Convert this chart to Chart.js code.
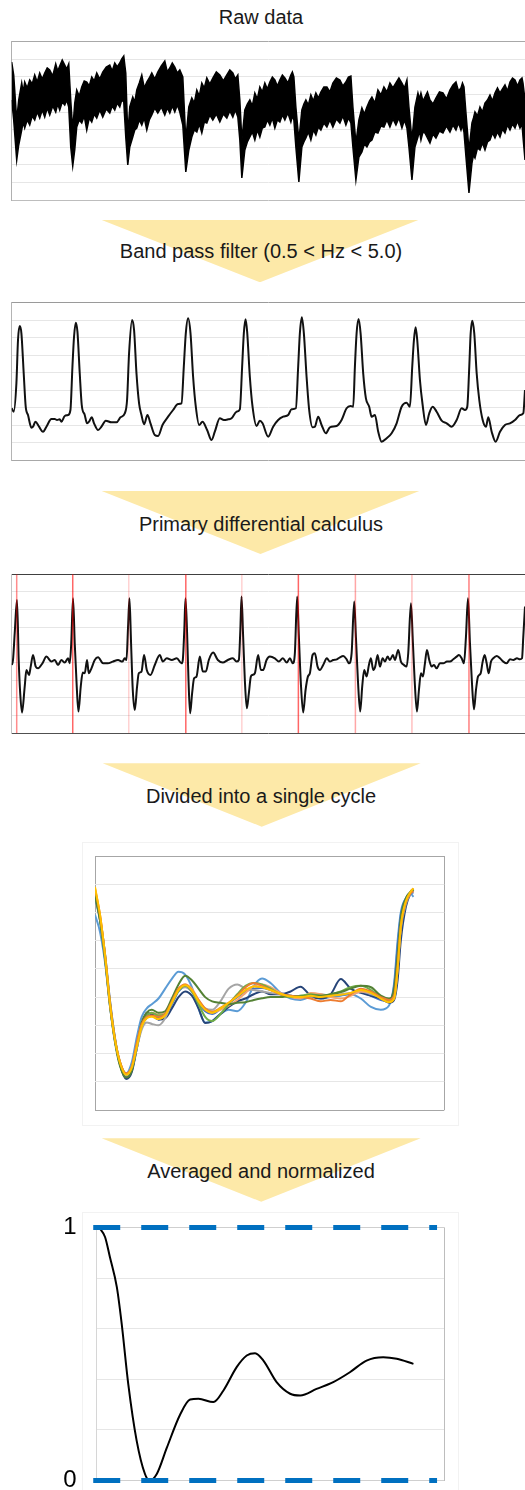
<!DOCTYPE html>
<html><head><meta charset="utf-8">
<script src="https://cdn.jsdelivr.net/npm/chart.js@4.4.1/dist/chart.umd.min.js"></script>
<style>
html,body{margin:0;padding:0;background:#fff;overflow:hidden;width:525px;height:1490px;}
.wrap{position:relative;width:525px;height:1490px;overflow:hidden;background:#fff;}
.lbl{position:absolute;left:0;width:522px;text-align:center;font-family:"Liberation Sans",Arial,sans-serif;font-size:20px;line-height:20px;color:#1a1a1a;white-space:nowrap;}
.arrow{position:absolute;background:#FDE9A8;clip-path:polygon(0 0,100% 0,50% 100%);}
.frame{position:absolute;border:1px solid #f2f2f2;}
canvas{position:absolute;}
</style></head>
<body><div class="wrap">
<div class="arrow" style="left:101.7px;top:220px;width:316.6px;height:62.3px"></div>
<div class="arrow" style="left:101.7px;top:491px;width:317.6px;height:63px"></div>
<div class="arrow" style="left:102.7px;top:763.3px;width:318px;height:63.4px"></div>
<div class="arrow" style="left:101.7px;top:1138.3px;width:319px;height:63.4px"></div>
<div class="frame" style="left:82px;top:842px;width:375px;height:282px"></div>
<div class="frame" style="left:82px;top:1212px;width:375px;height:290px"></div>
<div class="lbl" style="top:6.5px">Raw data</div>
<div class="lbl" style="top:241.2px">Band pass filter (0.5 &lt; Hz &lt; 5.0)</div>
<div class="lbl" style="top:513.5px">Primary differential calculus</div>
<div class="lbl" style="top:785.7px">Divided into a single cycle</div>
<div class="lbl" style="top:1161px">Averaged and normalized</div>
<canvas id="c1" width="515" height="162" style="left:10px;top:40px"></canvas>
<canvas id="c2" width="515" height="161" style="left:10px;top:301px"></canvas>
<canvas id="c3" width="515" height="163" style="left:10px;top:572px"></canvas>
<canvas id="c4" width="352" height="258" style="left:93px;top:854px"></canvas>
<canvas id="c5" width="450" height="322" style="left:0px;top:1193px"></canvas>
</div>
<script>
// ---------- DATA ----------
// Panel 1: raw signal, envelope (upper / lower) of the noisy trace
const rawT = [0,2,5,7,10,11.5,13,15.5,18,20.5,23,25.5,28,30.5,33,35.5,38,41,44,46,48,50.5,53,55,57,
 59,61,63,65,67.5,70,72.5,75,77.5,80,82.5,85,88,91,94.5,98,100.5,103,105.5,108,110,112,
 114,116,118,121,123,125,127.5,130,132.5,135,137.5,140,143,146,149.5,153,155.5,158,160.5,163,165.5,168,171,
 174,177,180,182.5,185,187.5,190,192.5,195,198,201,204.5,208,211.5,215,218,221,223.5,226,228,
 230,233,235.5,238,240.5,243,245.5,248,250.5,253,255.5,258,260.5,263,265.5,268,270.5,273,276,279,280.5,282,284,
 287,290,292,294,296.5,299,301.5,304,306.5,309,312,315,318,321,324.5,328,331,334,336.5,339,341,
 344,347,350,352.5,355,357.5,360,363,366,369,372,375,378,381,384,387,390,392.5,395,397,
 400,403,406,407.5,409,411,413,415.5,418,421,424,427.5,431,434.5,438,441,444,446.5,449,450.5,452,454,
 457,460,461.5,463,465.5,468,470.5,473,475.5,478,480.5,483,485.5,488,490.5,493,495.5,498,500.5,503,505.5,508,510,511,513];
const rawUpper = [138,125,80,100,117,108,118,112,120,116,125,118,127,121,127,132,130,124,136,129,134,140,135,131,136,
 100,70,97,110,104,113,119,118,114,123,119,127,121,128,133,135,129,137,133,137,141,144,
 127,65,93,103,98,110,117,125,112,118,122,127,121,128,134,139,128,132,137,133,127,130,123,
 60,93,102,97,110,104,117,112,122,116,122,128,125,119,125,130,127,121,125,100,
 60,90,96,100,94,107,101,113,108,117,111,118,123,120,114,120,125,122,117,125,128,123,93,
 60,90,96,100,95,105,99,107,102,108,113,113,108,117,122,120,114,118,123,124,93,
 57,80,92,86,93,99,103,97,110,105,113,108,117,112,117,122,117,112,120,93,
 60,93,107,101,107,99,103,108,100,96,102,108,107,101,110,115,118,109,112,117,113,87,
 50,77,82,88,84,93,88,97,100,105,99,107,112,107,111,115,109,118,122,120,114,120,122,117,100];
const rawLower = [100,80,40,55,70,78,72,80,75,84,80,88,82,90,83,92,85,94,88,96,90,98,95,100,93,
 53,34,50,73,80,77,84,70,82,78,86,82,90,83,91,87,94,90,97,93,100,98,
 63,35,53,63,70,72,80,75,82,70,80,85,92,87,93,85,92,87,94,88,95,88,75,
 28,50,63,70,68,76,67,78,77,85,80,86,78,86,82,89,83,90,83,60,
 22,50,58,63,68,60,70,63,72,73,80,75,82,72,80,78,85,80,87,78,84,80,53,
 18,53,58,62,68,60,70,65,73,70,77,73,80,73,81,77,84,75,82,77,53,
 20,43,48,56,53,58,60,68,67,74,73,80,73,81,75,82,72,80,72,53,
 20,53,63,69,60,68,67,62,57,66,62,69,67,74,68,75,70,77,70,75,68,43,
 7,37,45,42,52,50,57,50,58,60,67,62,68,63,71,67,75,70,76,72,79,72,76,63,40];

// Panel 2: band-pass filtered signal
const bandT = [0,2,4.7,6.3,8,9.7,12,14,16.3,19.7,21.3,23.7,27.3,31.3,34.7,39.7,43,45.3,48,49.7,53,56.3,58.7,
 60.7,62.3,64,65.7,68,70,73,75.3,77.3,80,82.3,86.3,89.7,94,99.7,104.7,108.7,113,115.3,
 117.3,120.3,122.3,124.7,127.3,129.7,132.3,135.7,138.7,143,146.3,150.7,156.3,161.3,166.3,169.7,
 172,174,176.3,178.7,181.3,184,187.3,190.7,195.3,199.7,203,208,212,216.3,219.7,224.7,228,
 230.3,232,233.7,235.3,238,240.7,244.7,248,250.7,256.3,261.3,266.3,271.3,276.3,279.7,284,
 286.3,288,290,292,294.7,297.3,300.7,303,306.3,309.7,314,318,324.7,329.7,334.7,338.7,341.3,
 343,344.7,346.7,348.7,351.3,354,357.3,359.7,363,366.3,369.7,374.7,379.7,384.7,389.7,394.7,398,
 400.3,402,403.7,405.3,408,410.7,414,417.3,420.7,424.7,429.7,434.7,439.7,444.7,449.7,453,455.3,
 457.3,458.7,460.3,462.3,464.7,467.3,470.7,474,476.3,479.7,483.7,488,493,498,503,508,511.3,513];
const bandV = [51.7,48.3,76.7,120,134,126.7,86.7,53.3,45,32.3,33.3,38.3,33.3,28.3,33.3,41,41,40,40.7,38.3,44,45,50,
 93.3,123.3,137.3,128.3,86.7,55,45,36.7,38.3,42.7,36.7,30,33.3,39.3,37.7,37.7,42.7,46.7,60,
 106.7,140,130,86.7,56.7,45,35.7,45,36.7,25,24,35,43.3,50,56,56.7,
 93.3,126.7,141.7,126.7,83.3,53.3,35,38.3,30,20,28.3,41.7,40,40.7,41.7,48.3,50.7,
 93.3,126.7,140.7,128.3,83.3,53.3,34,39.3,36.7,23.3,33.3,40,43.3,45,50.7,51.7,
 93.3,126.7,142.7,126.7,83.3,50,32.7,33.3,43.3,35,26.7,32.7,34,40,51.7,54,53.3,
 93.3,126.7,141,126.7,86.7,61.7,53.3,43.3,45,28.3,18.3,21.7,26.7,36.7,53.3,57.3,53.3,
 93.3,120,132.7,120,80,55,35,46.7,53.3,48.3,39.3,36.7,33.3,40,51.7,50,53.3,
 93.3,126.7,139.3,126.7,86.7,60,40,33.3,42.7,28.3,18.3,28.3,35,36.7,40,45,46.7,70];

// Panel 3: first derivative
const diffT = [0,1.3,3,5.3,7,8.5,10.3,13,14.7,17.3,19,21.3,24,26.3,30.7,34.7,39.7,43,46.3,49.7,53,56.3,58,59.5,61.3,
 63,65,66.7,69,71,73,75.3,77,79.7,83,86.3,91.3,96,101,106.3,110.5,113,114.7,116.3,117.7,
 119.3,121,123,125.3,127,129.7,132.3,135,138.7,143,148,151,155,160,165,169.7,171,172.5,173.7,
 175.3,176.7,178.3,180.3,182.3,184.7,188,191,194,197,201.3,206,211,216,221,224.7,227,228.5,229.7,
 231.3,233,235,237,239,240.5,243,246.3,249,251.3,254.7,258,263,267,271,275,278,281,283,285.3,
 287,289,291.3,293.7,296,298,300.7,303,305.7,308,311.3,315,318,321.3,325,328,331.3,334.7,337,339.7,342.3,
 344,346,348.3,350.3,352.3,354.7,357,359,361.3,363.3,365.7,368,370.7,373,375.7,378,381,383,386.3,389,392,394.7,396.3,399,
 401,402.7,405,407,409,411,413,415,417.3,419.7,422,424.7,428,431.3,435,438,441.3,444.7,447,449.7,452,454,456,
 458,460,462,464,466,468.7,470.7,472.7,474.7,476.7,479,481.3,484.7,488,491.3,494.7,498,501.3,505,508,510,511.3,513];
const diffV = [68.3,73.3,100,133.3,73.3,40,20.7,46.7,63.3,58.3,66.7,78.3,66.7,65,70,76.7,71.7,73.3,68.3,73.3,70.7,75,70,90,135,
 90,46.7,21.7,46.7,60.7,60,73.3,60,65,73.3,76,70,70,71.7,73.3,71.7,75,73.3,106.7,135,
 90,43.3,23.3,46.7,60,61.7,78.3,63.3,58.3,68.3,78.3,71.7,75,73.3,75,70,73.3,103.3,135,
 100,53.3,20,40,55,56.7,76.7,61.7,61.7,73.3,80.7,73.3,70.7,73.3,75,71.7,73.3,103.3,136.7,
 96.7,53.3,25,40,56.7,58.3,60,78.3,63.3,63.3,73.3,76.7,75,71.7,75,70.7,75,70,80,136.7,
 96.7,50,20.7,43.3,56.7,60,78.3,80,66.7,63.3,68.3,75,71.7,73.3,74,76,77.3,74,70,80,131.7,
 96.7,53.3,21.7,46.7,63.3,56.7,68.3,75,63.3,66.7,78.3,66.7,75,71.7,76.7,73.3,78.3,73.3,83.3,71.7,68.3,66.7,80,130,
 90,53.3,21.7,43.3,60,56.7,70,83.3,73.3,66.7,68.3,65,70,70,71.7,71.7,74,76.7,78.3,75,70,96.7,135,
 90,50,24,43.3,56.7,60,71.7,78.3,70,60,71.7,75,77.3,75,71.7,70,74,73.3,75,74,75,96.7,126.7];
// cycle onset markers (times)
const markT = [5,61,117,174,230,286.5,343.5,400,457];

// Panel 4: single cycles
const cycX = [0,1.6,3.2,4.7,6.3,7.9,9.8,11.6,13.2,14.7,16.3,17.9,20,22.1,24.2,26.3,28.4,30.5,32.6,34.7,36.9,39.5,42.1,44.8,47.4,50,52.6,55.3,58.4,61.6,64.7,67.9,71.1,74.2,77.4,80.5,83.7,86.9,90,92.6,94.2,95.3,96.3,97.9,99.5,100.3];
const cycle1 = [6.92,6.30,5.20,3.70,2.45,1.65,1.30,1.70,2.60,3.30,3.60,3.75,3.95,4.30,4.65,4.90,4.80,4.35,3.60,3.10,3.15,3.40,3.55,3.50,3.80,4.40,4.66,4.50,4.15,3.95,3.90,4.00,3.95,4.00,4.05,4.10,3.95,3.65,3.55,3.70,4.50,6.00,7.00,7.50,7.65,7.55];
const cycle2 = [7.60,6.70,5.30,3.70,2.40,1.55,1.15,1.40,2.30,3.10,3.45,3.55,3.45,3.50,3.95,4.45,4.76,4.60,4.30,4.00,3.85,3.80,3.75,3.80,3.82,3.90,3.96,4.00,4.00,4.05,4.02,4.06,4.05,4.10,4.18,4.30,4.40,4.35,4.05,3.95,4.30,5.50,6.80,7.50,7.75,7.82];
const cycle3 = [7.70,6.80,5.50,3.90,2.55,1.60,1.10,1.35,2.20,3.00,3.45,3.40,3.20,3.25,3.60,4.00,4.20,4.05,3.60,3.08,3.15,3.40,3.65,3.85,3.95,4.10,4.20,4.10,4.10,4.20,4.37,4.05,3.95,4.10,4.64,4.30,4.15,4.05,3.95,3.80,3.90,4.60,6.00,7.20,7.70,7.80];
const cycle4 = [7.85,6.90,5.45,3.80,2.50,1.70,1.30,1.55,2.40,3.05,3.30,3.35,3.30,3.40,3.85,4.30,4.45,4.25,3.90,3.60,3.48,3.62,3.80,4.05,4.35,4.50,4.40,4.25,4.10,4.05,4.00,3.95,3.85,3.90,3.85,4.10,4.30,4.20,4.00,3.90,4.05,5.10,6.50,7.35,7.70,7.75];
const cycle5 = [7.75,6.80,5.35,3.72,2.45,1.62,1.22,1.45,2.20,2.85,3.10,3.05,3.00,3.25,3.80,4.25,4.35,4.20,3.85,3.60,3.55,3.85,4.30,4.45,4.30,4.25,4.20,4.15,4.10,4.00,4.05,4.00,4.10,4.05,4.10,4.15,4.20,4.10,4.00,3.90,4.00,5.00,6.40,7.30,7.70,7.78];
const cycle6 = [7.65,6.75,5.40,3.80,2.50,1.68,1.28,1.52,2.30,3.00,3.35,3.45,3.35,3.40,3.80,4.22,4.40,4.20,3.75,3.30,3.15,3.40,3.75,4.10,4.40,4.50,4.45,4.30,4.10,4.00,4.05,4.10,4.05,4.10,4.20,4.35,4.40,4.25,4.00,3.85,4.00,5.10,6.50,7.40,7.72,7.80];
const cycle7 = [7.55,6.70,5.35,3.75,2.45,1.60,1.18,1.42,2.20,2.95,3.28,3.38,3.28,3.35,3.75,4.20,4.38,4.20,3.80,3.50,3.40,3.58,3.78,4.00,4.20,4.30,4.32,4.25,4.15,4.05,4.00,4.05,4.00,4.05,4.08,4.12,4.18,4.05,3.90,3.85,4.40,5.80,6.90,7.50,7.70,7.70];
const cycle8 = [7.80,6.85,5.45,3.82,2.52,1.70,1.28,1.50,2.30,3.00,3.35,3.45,3.38,3.45,3.85,4.28,4.45,4.30,3.90,3.58,3.45,3.55,3.70,3.90,4.15,4.40,4.45,4.35,4.15,4.00,3.95,4.15,4.10,4.00,3.95,4.05,4.20,4.15,4.00,3.85,3.95,5.00,6.50,7.40,7.75,7.85];
const cycle9 = [7.90,6.90,5.45,3.78,2.48,1.66,1.25,1.50,2.25,2.95,3.25,3.30,3.22,3.35,3.80,4.25,4.42,4.25,3.85,3.55,3.45,3.60,3.80,4.02,4.25,4.38,4.35,4.25,4.12,4.02,4.00,4.05,4.00,4.05,4.08,4.15,4.25,4.15,3.95,3.82,3.95,5.00,6.50,7.40,7.75,7.85];

// Panel 5: averaged & normalized cycle
const normX = [0.7,2.4,3.8,5.8,7.2,9.1,11.5,13.9,15.3,17.3,20.2,24.0,26.9,29.3,33.6,36.5,40.3,43.2,45.6,48.0,51.8,55.7,58.6,63.3,68.1,72.9,77.7,82.5,86.4,91.2];
const normV = [1.0,0.962,0.883,0.764,0.619,0.38,0.158,0.026,0.0,0.026,0.13,0.26,0.32,0.323,0.31,0.356,0.448,0.494,0.503,0.474,0.389,0.343,0.336,0.362,0.389,0.428,0.474,0.487,0.481,0.461];
const normRefLevels = [1, 0];
const normTickLabels = ['0', '1'];

// ---------- CHARTS ----------
Chart.defaults.font.family = '"Liberation Sans", Arial, sans-serif';
const pts = (xs, ys) => xs.map((x, i) => ({x: x, y: ys[i]}));

function traceOptions(xMax, yMax, pad, cols) {
  return {
    responsive: false, animation: false, devicePixelRatio: 1,
    layout: {padding: pad},
    plugins: {legend: {display: false}, tooltip: {enabled: false}},
    elements: {point: {radius: 0}},
    scales: {
      x: {type: 'linear', min: 0, max: xMax, display: false},
      y: {
        min: 0, max: yMax,
        ticks: {display: false, count: 10},
        grid: {drawTicks: false, lineWidth: 1,
          color: c => c.index === 0 ? cols.bottom : (c.index === 9 ? cols.top : '#e6e6e6')},
        border: {display: true, color: cols.left, width: 1}
      }
    }
  };
}

// Panel 1
new Chart(document.getElementById('c1'), {
  type: 'line',
  data: {datasets: [
    {data: pts(rawT, rawUpper), borderColor: '#000', backgroundColor: '#000', borderWidth: 1.5, fill: '+1', tension: 0},
    {data: pts(rawT, rawLower), borderColor: '#000', borderWidth: 1.5, fill: false, tension: 0}
  ]},
  options: traceOptions(513, 158.3, {left: 1.7, top: 1.7, right: 0, bottom: 2}, {top: '#a8a8a8', bottom: '#bdbdbd', left: '#b0b0b0'})
});

// Panel 2
new Chart(document.getElementById('c2'), {
  type: 'line',
  data: {datasets: [
    {data: pts(bandT, bandV), borderColor: '#111', borderWidth: 2, fill: false, cubicInterpolationMode: 'monotone'}
  ]},
  options: traceOptions(513, 157.3, {left: 1.7, top: 1.7, right: 0, bottom: 2}, {top: '#9a9a9a', bottom: '#a8a8a8', left: '#b4b4b4'})
});

// Panel 3
const markAlpha = [0.45, 0.6, 0.18, 0.6, 0.18, 0.6, 0.35, 0.25, 0.5];
const markSets = markT.map((t, i) => ({
  data: [{x: t, y: 0}, {x: t, y: 159}],
  borderColor: 'rgba(255,0,0,' + markAlpha[i] + ')', borderWidth: 1.5, fill: false, order: 0
}));
new Chart(document.getElementById('c3'), {
  type: 'line',
  data: {datasets: markSets.concat([
    {data: pts(diffT, diffV), borderColor: '#111', borderWidth: 2, fill: false, cubicInterpolationMode: 'monotone', order: 1}
  ])},
  options: traceOptions(513, 159, {left: 1.7, top: 2.3, right: 0, bottom: 1.7}, {top: '#404040', bottom: '#505050', left: '#c4c4c4'})
});

// Panel 4
const cycleSeries = [cycle9, cycle4, cycle2, cycle6, cycle8, cycle5, cycle3, cycle7, cycle1];
const cycleColors = ['#FFC000', '#ED7D31', '#548235', '#70AD47', '#F4A36E', '#A5A5A5', '#264478', '#4472C4', '#5B9BD5'];
new Chart(document.getElementById('c4'), {
  type: 'line',
  data: {datasets: cycleSeries.map((s, i) => ({
    data: pts(cycX, s), borderColor: cycleColors[i], borderWidth: 2, fill: false, cubicInterpolationMode: 'monotone'
  }))},
  options: {
    responsive: false, animation: false, devicePixelRatio: 1,
    layout: {padding: {left: 2, top: 2, right: 0.7, bottom: 2}},
    plugins: {legend: {display: false}, tooltip: {enabled: false}},
    elements: {point: {radius: 0}},
    scales: {
      x: {type: 'linear', min: 0, max: 110, ticks: {display: false, count: 2},
          grid: {drawTicks: false, color: '#a6a6a6'}, border: {display: false}},
      y: {min: 0, max: 9, ticks: {display: false, count: 10},
          grid: {drawTicks: false, color: c => (c.index === 0 || c.index === 9) ? '#a6a6a6' : '#e6e6e6'},
          border: {display: false}}
    }
  }
});

// Panel 5
const refSets = normRefLevels.map(v => ({
  data: [{x: -1, y: v}, {x: 98, y: v}],
  borderColor: '#0070C0', borderWidth: 5, borderDash: [27, 21], fill: false, clip: false, order: 0
}));
new Chart(document.getElementById('c5'), {
  type: 'line',
  data: {datasets: refSets.concat([
    {data: pts(normX, normV), borderColor: '#000', borderWidth: 2, fill: false, cubicInterpolationMode: 'monotone', order: 1}
  ])},
  options: {
    responsive: false, animation: false, devicePixelRatio: 1,
    layout: {padding: {left: 0, top: 0, right: 6, bottom: 0}},
    plugins: {legend: {display: false}, tooltip: {enabled: false}},
    elements: {point: {radius: 0}},
    scales: {
      x: {type: 'linear', min: 0, max: 100, ticks: {display: false, count: 2},
          grid: {drawTicks: false, color: c => c.index === 0 ? '#d6d6d6' : '#bdbdbd'}, border: {display: false}},
      y: {min: 0, max: 1,
          afterFit: s => { s.width = 96.7; },
          ticks: {count: 11, padding: 20, color: '#000', font: {size: 24},
                  callback: (v, i) => i === 0 ? normTickLabels[0] : (i === 10 ? normTickLabels[1] : '')},
          grid: {drawTicks: false, color: c => (c.index === 0 || c.index === 10) ? '#cfcfcf' : '#e6e6e6'},
          border: {display: false}}
    }
  }
});
</script>
</body></html>
